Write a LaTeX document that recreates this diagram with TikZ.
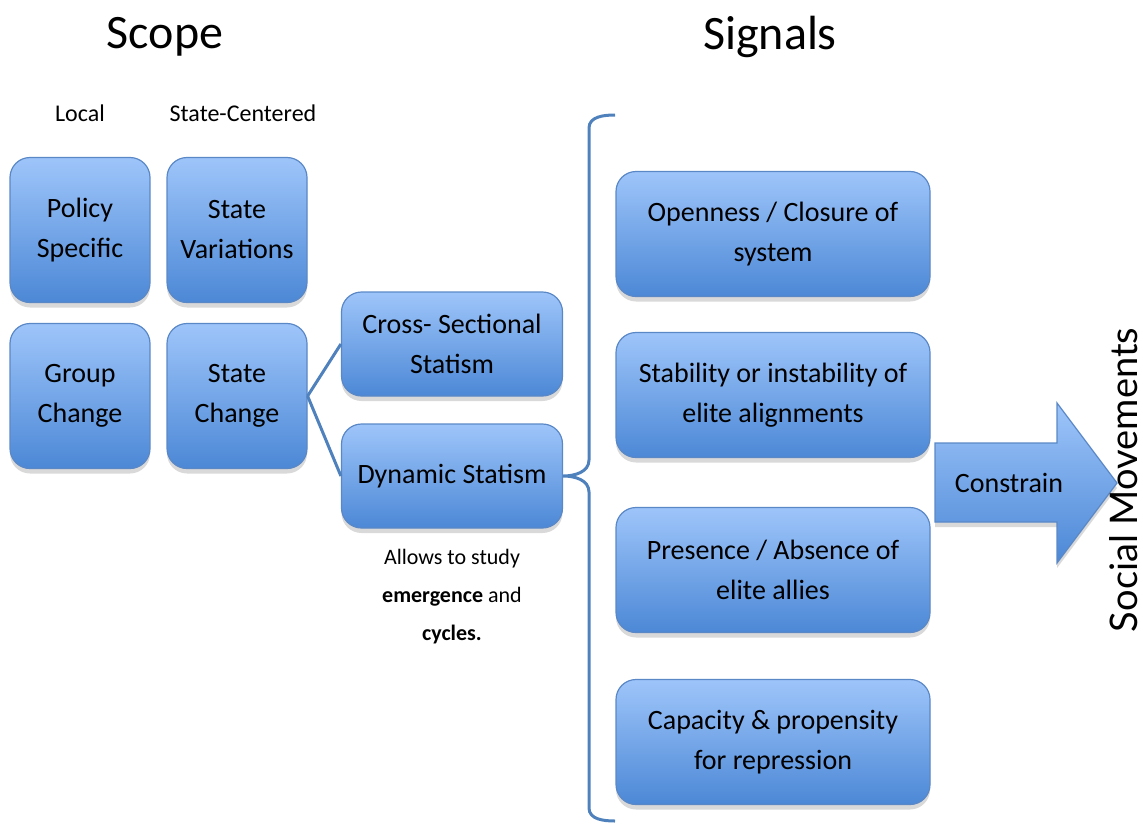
\documentclass[tikz,border=0pt]{standalone}
\usepackage{fontspec}
\setmainfont{Carlito}
\newfontfamily\smfont{Lato}
\usetikzlibrary{shadows}
\definecolor{boxtop}{RGB}{158,197,250}
\definecolor{boxbot}{RGB}{76,136,214}
\definecolor{boxline}{RGB}{90,136,198}
\definecolor{linkblue}{RGB}{79,129,189}

\begin{document}
\begin{tikzpicture}[x=0.5pt,y=-0.5pt,
    block/.style={draw=boxline, line width=0.6pt, rounded corners=10pt,
      top color=boxtop, bottom color=boxbot, align=center,
      font=\fontsize{14}{20}\selectfont,
      drop shadow={opacity=0.3, shadow xshift=0pt, shadow yshift=-2.5pt}},
    smallblock/.style={block, minimum width=70pt, minimum height=72.5pt},
    midblock/.style={block, minimum width=110.5pt, minimum height=52pt},
    sigblock/.style={block, minimum width=157pt, minimum height=62.5pt},
    link/.style={draw=linkblue, line width=1.5pt},
    title/.style={font=\fontsize{24}{28}\selectfont},
    head/.style={font=\fontsize{12}{14}\selectfont}]
  \useasboundingbox (0,0) rectangle (1143,824);

  \node [title] (scope) at (165,37) {Scope};
  \node [title] (signals) at (770,37) {Signals};
  \node [head] (local) at (80,113) {Local};
  \node [head] (statecent) at (243,113) {State-Centered};

  \node [smallblock] (policy) at (80,230) {Policy\\Specific};
  \node [smallblock] (statevar) at (237,230) {State\\Variations};
  \node [smallblock] (group) at (80,396) {Group\\Change};
  \node [smallblock] (statech) at (237,396) {State\\Change};

  \node [midblock] (cross) at (452,344) {Cross- Sectional\\Statism};
  \node [midblock] (dynamic) at (452,476) {Dynamic Statism};
  \node [align=center, font=\fontsize{11}{19}\selectfont] (note) at (452,597)
    {Allows to study\\\textbf{emergence} and\\\textbf{cycles.}};

  \draw [link] (statech.east) -- (cross.west);
  \draw [link] (statech.east) -- (dynamic.west);

  \node [sigblock] (open) at (773,234) {Openness / Closure of\\system};
  \node [sigblock] (stab) at (773,395) {Stability or instability of\\elite alignments};
  \node [sigblock] (pres) at (773,570) {Presence / Absence of\\elite allies};
  \node [sigblock] (cap) at (773,742) {Capacity \& propensity\\for repression};

  \coordinate (bracetop) at (615,115);
  \coordinate (bracebot) at (615,821);
  \draw [link] (bracetop) to[out=180,in=90] (589,128) -- (589,460)
    to[out=-90,in=0] (dynamic.east) to[out=0,in=90] (589,492) -- (589,808)
    to[out=-90,in=180] (bracebot);

  \draw [boxline, line width=0.6pt, top color=boxtop, bottom color=boxbot,
    drop shadow={opacity=0.3, shadow xshift=0pt, shadow yshift=-2.5pt}]
    (935,443) -- (1057,443) -- (1057,403) -- (1117,483) -- (1057,563)
    -- (1057,522) -- (935,522) -- cycle;
  \node [font=\fontsize{14}{16}\selectfont] (constrain) at (1009,483) {Constrain};

  \node [rotate=90, font=\smfont\fontsize{19}{22}\selectfont]
    (social) at (1124,480) {Social Movements};
\end{tikzpicture}
\end{document}
